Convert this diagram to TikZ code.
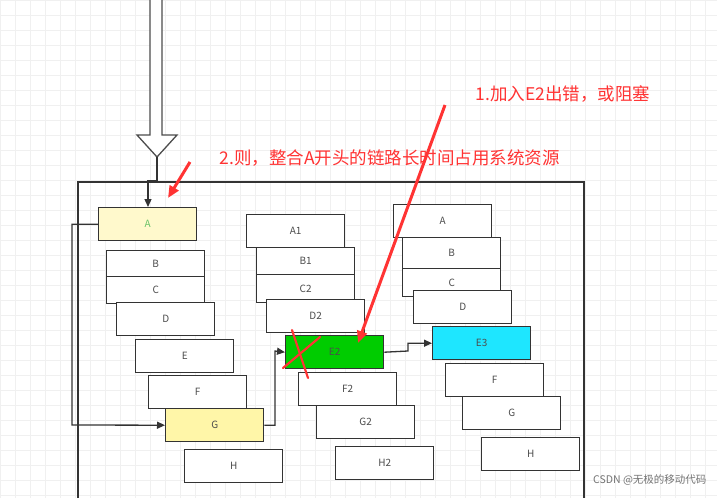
\documentclass[tikz,border=0pt]{standalone}
\usepackage{fontspec}
\setmainfont{Noto Sans CJK SC}
\usetikzlibrary{arrows.meta,positioning}
\definecolor{chainyellow}{RGB}{255,249,204}
\definecolor{chaingold}{RGB}{255,246,168}
\definecolor{chaingreen}{RGB}{0,204,0}
\definecolor{chaincyan}{RGB}{30,230,255}
\definecolor{noticered}{RGB}{255,51,51}
\tikzset{
  chainbox/.style={draw=black!80, line width=1.4pt, fill=white, minimum width=98pt, minimum height=33pt, font=\fontsize{10}{11}\selectfont, text=black!70, inner sep=0pt},
  link/.style={draw=black!80, line width=1.3pt, -{Triangle[length=8pt,width=7pt]}},
  notice/.style={text=noticered, font=\fontsize{17.5}{19}\selectfont, anchor=west}
}
\begin{document}
\begin{tikzpicture}[x=1pt,y=-1pt]
\useasboundingbox (0,0) rectangle (717,498);
\fill[white] (0,0) rectangle (717,498);
\draw[black!6, step=15pt] (0,0) grid (717,498);

% container
\draw[black!80, line width=1.4pt] (78,498) -- (78,182) -- (584,182) -- (584,498);

% hollow arrow
\draw[black!70, line width=1.3pt, fill=white] (150,0) -- (150,135) -- (137,135) -- (157,157) -- (177,135) -- (162,135) -- (162,0);

% left chain
\node[chainbox, fill=chainyellow, text=green!60!black!60, anchor=north west] (a) at (98,207) {A};
\node[chainbox, anchor=north west, minimum height=27pt] (b) at (106,250) {B};
\node[chainbox, anchor=north west, minimum height=27pt] (c) at (106,276) {C};
\node[chainbox, anchor=north west] (d) at (116,302) {D};
\node[chainbox, anchor=north west] (e) at (135,339) {E};
\node[chainbox, anchor=north west] (f) at (148,375) {F};
\node[chainbox, fill=chaingold, anchor=north west] (g) at (165,408) {G};
\node[chainbox, anchor=north west] (h) at (184,449) {H};

% middle chain
\node[chainbox, anchor=north west] (a1) at (246,214) {A1};
\node[chainbox, anchor=north west, minimum height=27pt] (b1) at (256,247) {B1};
\node[chainbox, anchor=north west, minimum height=28pt] (c2) at (256,274) {C2};
\node[chainbox, anchor=north west] (d2) at (266,299) {D2};
\node[chainbox, fill=chaingreen, anchor=north west] (e2) at (285,335) {E2};
\node[chainbox, anchor=north west] (f2) at (298,372) {F2};
\node[chainbox, anchor=north west] (g2) at (316,405) {G2};
\node[chainbox, anchor=north west] (h2) at (335,446) {H2};

% right chain
\node[chainbox, anchor=north west] (ra) at (393,204) {A};
\node[chainbox, anchor=north west, minimum height=31pt] (rb) at (402,237) {B};
\node[chainbox, anchor=north west, minimum height=28pt] (rc) at (402,268) {C};
\node[chainbox, anchor=north west] (rd) at (413,290) {D};
\node[chainbox, fill=chaincyan, anchor=north west] (e3) at (432,326) {E3};
\node[chainbox, anchor=north west] (rf) at (445,363) {F};
\node[chainbox, anchor=north west] (rg) at (462,396) {G};
\node[chainbox, anchor=north west] (rh) at (481,437) {H};

% connectors
\coordinate (tip) at (157,157);
\draw[link] (tip) -- (157,181) -| (148,207);
\draw[link] (a.west) -| (72,425) -- (g.west);
\draw[link] (g.east) -| (275,351) -- (e2.west);
\draw[link] (e2.east) -- (408,351) |- (e3.west);

% failure mark
\draw[noticered, line width=2.2pt, line cap=round] (283,368) -- (320,337);
\draw[noticered, line width=2.2pt, line cap=round] (292,330) -- (308,378);

% red notes
\draw[noticered, line width=3pt, -{Triangle[length=12pt,width=10pt]}] (445,105) -- (358,343);
\draw[noticered, line width=3pt, -{Triangle[length=12pt,width=10pt]}] (190,162) -- (168,198);
\node[notice] (note1) at (472,94) {1.加入E2出错，或阻塞};
\node[notice] (note2) at (216,158) {2.则，整合A开头的链路长时间占用系统资源};

\node[text=black!55, font=\fontsize{10.5}{12}\selectfont, anchor=east] (mark) at (710,480) {CSDN @无极的移动代码};
\end{tikzpicture}
\end{document}
